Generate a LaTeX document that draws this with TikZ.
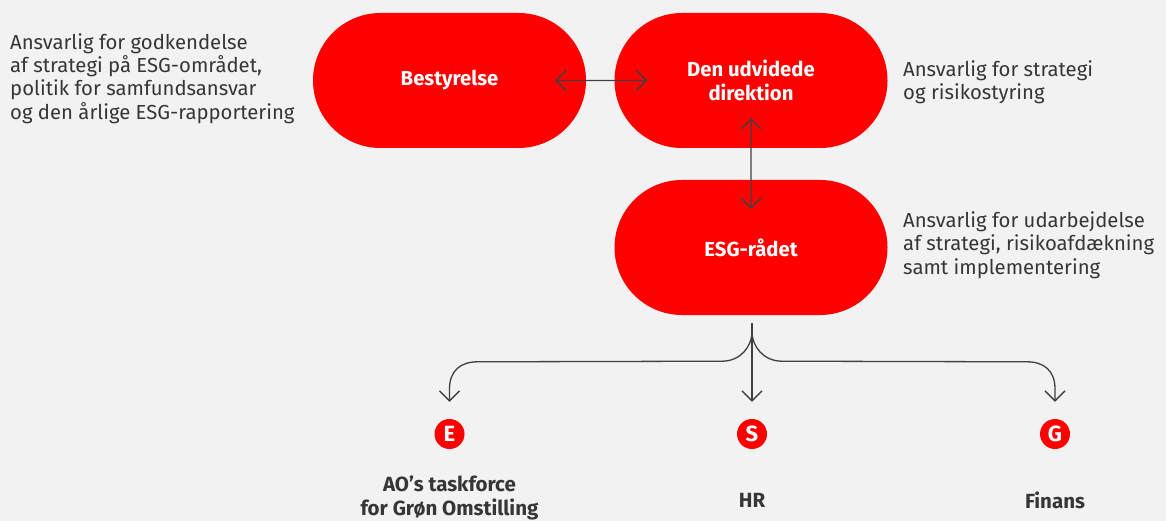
\documentclass[tikz,border=0pt]{standalone}
\usepackage{fontspec}
\setmainfont{Fira Sans}
\usetikzlibrary{shapes.misc,arrows.meta,calc}
\definecolor{aored}{HTML}{FF0000}
\definecolor{bgc}{HTML}{F2F2F2}
\definecolor{txt}{HTML}{363636}
\definecolor{lnc}{HTML}{404040}
\newcommand{\topstrut}{\rule{0pt}{16pt}}
\tikzset{
  pill/.style={rounded rectangle, fill=aored, minimum width=273pt, minimum height=135pt,
    text=white, font=\fontsize{20.3}{23.5}\selectfont\bfseries, align=center, inner sep=0pt},
  desc/.style={anchor=north west, text=txt, font=\fontsize{20.3}{23.3}\selectfont, align=left, inner sep=0pt},
  letter/.style={circle, fill=aored, minimum size=30pt, inner sep=0pt, text=white,
    font=\fontsize{22}{22}\selectfont\bfseries},
  unit/.style={anchor=north, text=txt, font=\fontsize{20.5}{24}\selectfont\bfseries, align=center, inner sep=0pt},
  conn/.style={draw=lnc, line width=1.3pt},
  tip/.style={-{Straight Barb[length=10pt,width=20pt,line width=1.3pt]}},
  tips/.style={{Straight Barb[length=10pt,width=20pt,line width=1.3pt]}-{Straight Barb[length=10pt,width=20pt,line width=1.3pt]}}
}
\begin{document}
\begin{tikzpicture}[x=1pt,y=-1pt]
\fill[bgc] (0,0) rectangle (1166,521);
\useasboundingbox (0,0) rectangle (1166,521);

\node[pill] (best) at (449.5,80.5) {Bestyrelse};
\node[pill] (dir) at (751,80.5) {Den udvidede\\direktion};
\node[pill] (esg) at (751,247.5) {ESG-rådet};

\node[desc] (dbest) at (10,33) {\topstrut Ansvarlig for godkendelse\\af strategi på ESG-området,\\politik for samfundsansvar\\og den årlige ESG-rapportering};
\node[desc] (ddir) at (903,60) {\topstrut Ansvarlig for strategi\\og risikostyring};
\node[desc] (desg) at (903,211.3) {\topstrut Ansvarlig for udarbejdelse\\af strategi, risikoafdækning\\samt implementering};

\node[letter] (e) at (449.5,434) {E};
\node[letter] (s) at (752,434) {S};
\node[letter] (g) at (1055,434) {G};

\node[unit] (le) at (449.5,475) {\topstrut AO’s taskforce\\for Grøn Omstilling};
\node[unit] (ls) at (752,491.7) {\topstrut HR};
\node[unit] (lg) at (1055,491.7) {\topstrut Finans};

\draw[conn, tips, shorten <=-31pt, shorten >=-33pt] (best) -- (dir);
\draw[conn, tips, shorten <=-30pt, shorten >=-29pt] (dir) -- (esg);

\coordinate (split) at ($(esg.south)+(1,8)$);
\draw[conn, tip, shorten >=17pt] (split) -- (s.north);
\draw[conn, tip, shorten >=17pt] (split) -- ++(0,8)
  .. controls +(0,16) and +(18,0) .. ($(split)+(-30,38)$)
  -- ($(e.north)+(28,-57)$)
  .. controls +(-17,0) and +(0,-18) .. ($(e.north)+(0,-30)$)
  -- (e.north);
\draw[conn, tip, shorten >=17pt] (split) -- ++(0,8)
  .. controls +(0,16) and +(-18,0) .. ($(split)+(30,38)$)
  -- ($(g.north)+(-28,-57)$)
  .. controls +(17,0) and +(0,-18) .. ($(g.north)+(0,-30)$)
  -- (g.north);
\end{tikzpicture}
\end{document}
